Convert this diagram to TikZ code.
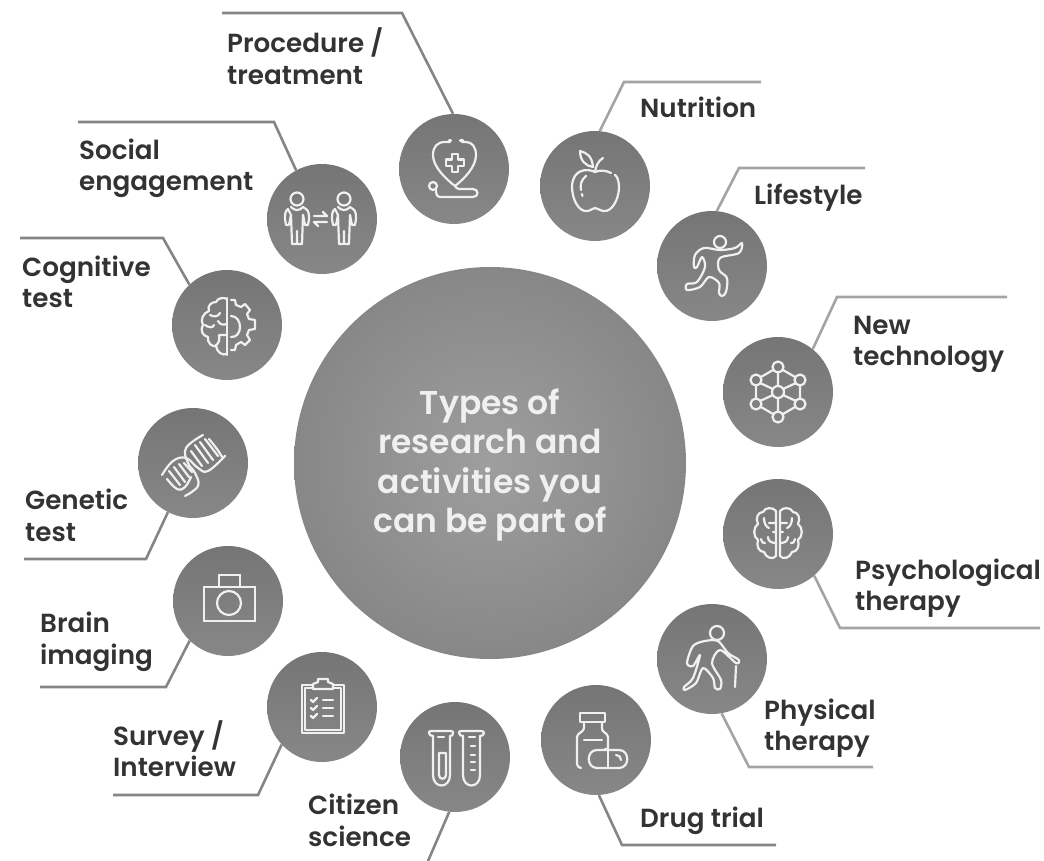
\documentclass[tikz,border=0pt]{standalone}
\usepackage{fontspec}
\setmainfont{Poppins SemiBold}
\newfontfamily\hubfont{Poppins SemiBold}
\definecolor{ink}{HTML}{333333}
\definecolor{lead}{HTML}{858585}
\definecolor{leadlt}{HTML}{A4A4A4}
\definecolor{glyph}{HTML}{F0F0F0}
\tikzset{
  x=1pt,y=-1pt,
  hub/.style={circle,minimum size=392pt,inner sep=0pt,inner color=black!38,outer color=black!47},
  disc/.style={circle,minimum size=110pt,inner sep=0pt,top color=black!54,bottom color=black!47,shading angle=0},
  lab/.style={anchor=base west,inner sep=0pt,text=ink,font=\fontsize{26.2}{31.5}\selectfont,align=left},
  hubtext/.style={text=glyph,font=\hubfont\fontsize{33}{39.5}\selectfont,align=center,inner sep=0pt},
  leader/.style={draw=lead,line width=2.6pt,line join=miter},
  leaderlt/.style={draw=leadlt,line width=2.6pt,line join=miter},
  icon/.style={draw=glyph,line width=2.2pt,line cap=round,line join=round},
}
\begin{document}
\begin{tikzpicture}
\useasboundingbox (0,0) rectangle (1044,861);
% hub and discs
\node[hub] (hub) at (490,463) {};
\node[hubtext] (hubt) at (490,465) {Types of\\research and\\activities you\\can be part of};
\node[disc] (c1) at (454,169) {};
\node[disc] (c2) at (595,186) {};
\node[disc] (c3) at (712,266) {};
\node[disc] (c4) at (778,392) {};
\node[disc] (c5) at (778,534) {};
\node[disc] (c6) at (712,659) {};
\node[disc] (c7) at (596,740) {};
\node[disc] (c8) at (455,757) {};
\node[disc] (c9) at (322,707) {};
\node[disc] (c10) at (228,601) {};
\node[disc] (c11) at (193,463) {};
\node[disc] (c12) at (227,325) {};
\node[disc] (c13) at (322,219) {};
% leader ends
\coordinate (a1) at (222,13);\coordinate (b1) at (402,13);
\coordinate (a2) at (761,82);\coordinate (b2) at (624,82);
\coordinate (a3) at (865,168);\coordinate (b3) at (739,168);
\coordinate (a4) at (1007,297);\coordinate (b4) at (837,297);
\coordinate (a5) at (1040,628);\coordinate (b5) at (840,628);
\coordinate (a6) at (873,767);\coordinate (b6) at (749,767);
\coordinate (a7) at (776,845);\coordinate (b7) at (622,845);
\coordinate (b8) at (428,861);
\coordinate (a9) at (113,795);\coordinate (b9) at (258,795);
\coordinate (a10) at (40,687);\coordinate (b10) at (166,687);
\coordinate (a11) at (24,559);\coordinate (b11) at (146,559);
\coordinate (a12) at (20,238);\coordinate (b12) at (163,238);
\coordinate (a13) at (78,122);\coordinate (b13) at (274,122);
\draw[leader] (a1)--(b1)--(c1.91);
\draw[leaderlt] (a2)--(b2)--(c2.85);
\draw[leaderlt] (a3)--(b3)--(c3.85);
\draw[leaderlt] (a4)--(b4)--(c4.51);
\draw[leaderlt] (a5)--(b5)--(c5.-49);
\draw[leaderlt] (a6)--(b6)--(c6.-80);
\draw[leader] (a7)--(b7)--(c7.-87);
\draw[leader] (b8)--(c8.-96);
\draw[leader] (a9)--(b9)--(c9.223);
\draw[leader] (a10)--(b10)--(c10.226);
\draw[leader] (a11)--(b11)--(c11.243);
\draw[leader] (a12)--(b12)--(c12.133);
\draw[leader] (a13)--(b13)--(c13.118);
% labels
\node[lab] (t1) at (227,84.5) {Procedure /\\treatment};
\node[lab] (t2) at (640,118) {Nutrition};
\node[lab] (t3) at (754,205) {Lifestyle};
\node[lab] (t4) at (853,365.5) {New\\technology};
\node[lab] (t5) at (855,610.5) {Psychological\\therapy};
\node[lab] (t6) at (764,750.5) {Physical\\therapy};
\node[lab] (t7) at (640,827) {Drug trial};
\node[lab] (t8) at (308,846) {Citizen\\science};
\node[lab] (t9) at (113,776.5) {Survey /\\Interview};
\node[lab] (t10) at (40,664) {Brain\\imaging};
\node[lab] (t11) at (25,541) {Genetic\\test};
\node[lab] (t12) at (22,307.5) {Cognitive\\test};
\node[lab] (t13) at (79,191) {Social\\engagement};
% stethoscope
\begin{scope}[shift={(c1.center)},icon]
\draw (-4,-27) -- (-9,-27) .. controls (-17,-27) and (-21,-22) .. (-21,-14) .. controls (-21,-2) and (-8,10) .. (1,17) .. controls (10,10) and (22,-2) .. (22,-14) .. controls (22,-22) and (18,-27) .. (12,-27) -- (8,-27);
\draw (-5,-28.5) -- (-3,-28.5) (6,-28.5) -- (9,-28.5);
\draw (1,17) .. controls (3,20) and (4,20) .. (8,20) -- (19,20) .. controls (25,20) and (25,28) .. (19,28) -- (-13,28) .. controls (-17,28) and (-18,26) .. (-18,21);
\draw (-21,17) circle (4);
\draw (-2,-15) -- (4,-15) -- (4,-9.5) -- (10,-9.5) -- (10,-3) -- (4,-3) -- (4,3) -- (-2,3) -- (-2,-3) -- (-8,-3) -- (-8,-9.5) -- (-2,-9.5) -- cycle;
\end{scope}
% apple
\begin{scope}[shift={(c2.center)},icon]
\draw (0,-14) .. controls (-8,-18) and (-22,-17) .. (-23,0) .. controls (-23,14) and (-16,26) .. (-8,25) .. controls (-4,25) and (-3,22) .. (0,22) .. controls (3,22) and (5,25) .. (9,25) .. controls (17,26) and (24,13) .. (24,1) .. controls (24,-5) and (22,-10) .. (20,-11);
\draw (16,-13) .. controls (10,-16) and (5,-16) .. (0,-14);
\draw (0,-14) .. controls (1,-20) and (3,-25) .. (8,-28);
\draw (-15,-35) .. controls (-8,-33) and (-3,-30) .. (-2,-19) .. controls (-9,-20) and (-15,-25) .. (-15,-35) -- cycle;
\draw (-9,-10) .. controls (-14,-6) and (-15,-1) .. (-14,4);
\draw (-13,8) -- (-12.5,10);
\end{scope}
% runner
\begin{scope}[shift={(c3.center)},icon]
\draw (8,-24) circle (6);
\draw plot[smooth cycle,tension=0.55] coordinates {(30,-23) (27,-13) (8,-8) (7,4) (15,12) (14,26) (10,30) (7,27) (7,17) (-3,11) (-12,21) (-25,24) (-25,18) (-15,16) (-7,1) (-10,-9) (-15,1) (-18,1) (-17,-11) (-8,-18) (8,-16) (23,-18)};
\end{scope}
% network
\begin{scope}[shift={(c4.center)},icon]
\foreach \p/\r in {(0,-25)/5.5,(-22,-12)/5.5,(22,-12)/5.5,(-22,12)/5.5,(22,12)/5.5,(0,25)/5.5,(0,0)/6}{\draw \p circle (\r);}
\draw (-5,-22) -- (-17,-15) (5,-22) -- (17,-15) (-22,-7) -- (-22,7) (22,-7) -- (22,7) (-17,15) -- (-5,22) (17,15) -- (5,22);
\draw (0,-20) -- (0,-6) (0,6) -- (0,20) (-18,-9) -- (-5,-3) (18,-9) -- (5,-3) (-18,9) -- (-5,3) (18,9) -- (5,3);
\end{scope}
% brain
\begin{scope}[shift={(c5.center)},icon]
\foreach \s in {1,-1}{\begin{scope}[xscale=\s]
\draw (2,-23) .. controls (5,-27) and (13,-27) .. (15,-22) .. controls (20,-22) and (23,-16) .. (20,-10) .. controls (25,-7) and (25,3) .. (20,6) .. controls (22,12) and (19,18) .. (14,18) .. controls (12,24) and (5,26) .. (2,22) -- (2,-23);
\draw (2,-11) -- (9,-11) (14,-16) .. controls (14,-11) and (12,-7) .. (9,-6);
\draw (2,9) .. controls (7,9) and (10,7) .. (10,3) (13,9) .. controls (15,10) and (16,8) .. (17,5) (2,-2) -- (5,-2);
\end{scope}}
\end{scope}
% walker
\begin{scope}[shift={(c6.center)},icon]
\draw (5,-26) circle (7);
\draw (24,7) -- (23,28);
\draw plot[smooth cycle,tension=0.5] coordinates {(27,1) (24,4) (8,-9) (0,4) (9,21) (8,30) (3,29) (1,19) (-9,9) (-16,24) (-27,31) (-28,28) (-19,19) (-12,-4) (-19,7) (-25,4) (-19,-13) (-7,-18) (6,-18) (16,-6)};
\end{scope}
% drug
\begin{scope}[shift={(c7.center)},icon]
\draw (-16,-27) rectangle (9,-18);
\draw (9,9) -- (12,9) -- (12,-3) .. controls (12,-7) and (5,-8) .. (6,-12) -- (6,-18);
\draw (-12,-18) -- (-12,-12) .. controls (-12,-8) and (-19,-7) .. (-19,-3) -- (-19,24) .. controls (-19,26) and (-17,28) .. (-15,28);
\draw (-12,0) -- (6,0);
\draw (1,10) -- (23,10) .. controls (34,10) and (34,28) .. (23,28) -- (1,28) .. controls (-10,28) and (-10,10) .. (1,10) -- cycle;
\draw (12,10) -- (12,28);
\draw (20,15) .. controls (23,15) and (25,17) .. (25,20);
\end{scope}
% tubes
\begin{scope}[shift={(c8.center)},icon]
\draw (-24,-26) -- (-4,-26) (-26,-24) .. controls (-26,-22) and (-24,-21) .. (-22,-21) (-24,-26) .. controls (-26,-26) and (-26,-25) .. (-26,-24) (-4,-26) .. controls (-2,-26) and (-2,-25) .. (-2,-24) .. controls (-2,-22) and (-3,-21) .. (-5,-21);
\draw (-22,-21) -- (-22,18) .. controls (-22,32) and (-5,32) .. (-5,18) -- (-5,-21);
\draw (-17,-20) -- (-11,-20);
\draw (-16,-4) -- (-9,-4) -- (-9,18) .. controls (-9,23) and (-16,23) .. (-16,18) -- cycle;
\draw (6,-26) -- (26,-26) (4,-24) .. controls (4,-22) and (6,-21) .. (8,-21) (6,-26) .. controls (4,-26) and (4,-25) .. (4,-24) (26,-26) .. controls (28,-26) and (29,-25) .. (29,-24) .. controls (29,-22) and (27,-21) .. (25,-21);
\draw (8,-21) -- (8,18) .. controls (8,32) and (25,32) .. (25,18) -- (25,-21);
\draw (14,-20) -- (20,-20);
\foreach \y in {-11,-2,5,13}{\draw (16,\y) -- (20,\y);}
\end{scope}
% clipboard
\begin{scope}[shift={(c9.center)},icon]
\draw (-10,-22) -- (-20,-22) -- (-20,26) -- (22,26) -- (22,-22) -- (11,-22);
\draw (-10,-19) -- (-17,-19) -- (-17,23) -- (19,23) -- (19,-19) -- (11,-19);
\draw (-9,-18) -- (-9,-23) -- (-4,-25) -- (-4,-28) -- (6,-28) -- (6,-25) -- (11,-23) -- (11,-18) -- cycle;
\foreach \y in {-7,1,9}{\draw (-11,\y) -- (-9,{\y+2}) -- (-5,{\y-2}); \draw (1,\y) -- (11,\y);}
\end{scope}
% camera
\begin{scope}[shift={(c10.center)},icon,line join=miter]
\draw (-24,-14) rectangle (27,20);
\draw (-9,-14) -- (-9,-26) -- (12,-26) -- (12,-14);
\draw (1,2) circle (12);
\end{scope}
% dna
\begin{scope}[shift={(c11.center)},icon]
\draw plot[smooth,tension=0.7] coordinates {(-31,12) (-20,-2) (-7,-5) (5,5) (15,8) (32,-7)};
\draw plot[smooth,tension=0.7] coordinates {(10,-28) (-7,-15) (-5,0) (2,10) (5,23) (-8,33)};
\draw plot[smooth,tension=0.7] coordinates {(-26,16) (-16,26) (-8,24) (-2,14)};
\draw plot[smooth,tension=0.7] coordinates {(16,-24) (24,-14) (29,-6)};
\draw (-24,8) -- (-13,22) (-19,4) -- (-8,19) (-14,1) -- (-4,14) (-9,0) -- (-1,9);
\draw (2,-18) -- (15,0) (7,-21) -- (20,-3) (12,-24) -- (25,-7) (-2,-12) -- (9,3);
\end{scope}
% cog-brain
\begin{scope}[shift={(c12.center)},icon]
\draw (0,-27) -- (0,30);
\draw (0,-26) .. controls (-4,-28) and (-9,-27) .. (-11,-23) .. controls (-16,-23) and (-20,-19) .. (-18,-14) .. controls (-24,-12) and (-27,-5) .. (-24,0) .. controls (-27,4) and (-25,11) .. (-19,12) .. controls (-20,18) and (-15,22) .. (-11,21) .. controls (-10,27) and (-5,31) .. (0,29);
\draw (-17,-10) .. controls (-13,-8) and (-9,-8) .. (-7,-12) (-9,-4) .. controls (-7,0) and (-4,0) .. (0,-1) (-22,0) .. controls (-18,3) and (-14,3) .. (-13,0) (-12,21) .. controls (-8,19) and (-7,14) .. (-8,10) (-8,10) -- (0,10);
\draw (4,-25) -- (8,-25) -- (9,-20) -- (14,-18) -- (18,-21) -- (23,-15) -- (20,-11) -- (22,-6) -- (28,-5) -- (28,4) -- (22,5) -- (20,10) -- (23,15) -- (18,20) -- (14,17) -- (9,20) -- (8,25) -- (4,25);
\draw (4,-9) .. controls (16,-9) and (16,13) .. (4,12);
\end{scope}
% people
\begin{scope}[shift={(c13.center)},icon]
\foreach \dx in {-25,22}{\begin{scope}[xshift=\dx]
\draw (0,-20) circle (6.5);
\draw (-6,-12) .. controls (-3,-8) and (3,-8) .. (6,-12) -- (9,-10) .. controls (12,-8) and (12,-4) .. (12,0) -- (11,6) -- (8,6) -- (6,-4) (-6,-4) -- (-8,6) -- (-11,6) -- (-12,0) .. controls (-12,-4) and (-12,-8) .. (-9,-10) -- cycle;
\draw (6,-4) -- (5,25) -- (-5,25) -- (-6,-4) (0,25) -- (0,12);
\end{scope}}
\draw (-8,-3) -- (5,-3) -- (1,-7);
\draw (5,3) -- (-8,3) -- (-4,7);
\end{scope}
\end{tikzpicture}
\end{document}
